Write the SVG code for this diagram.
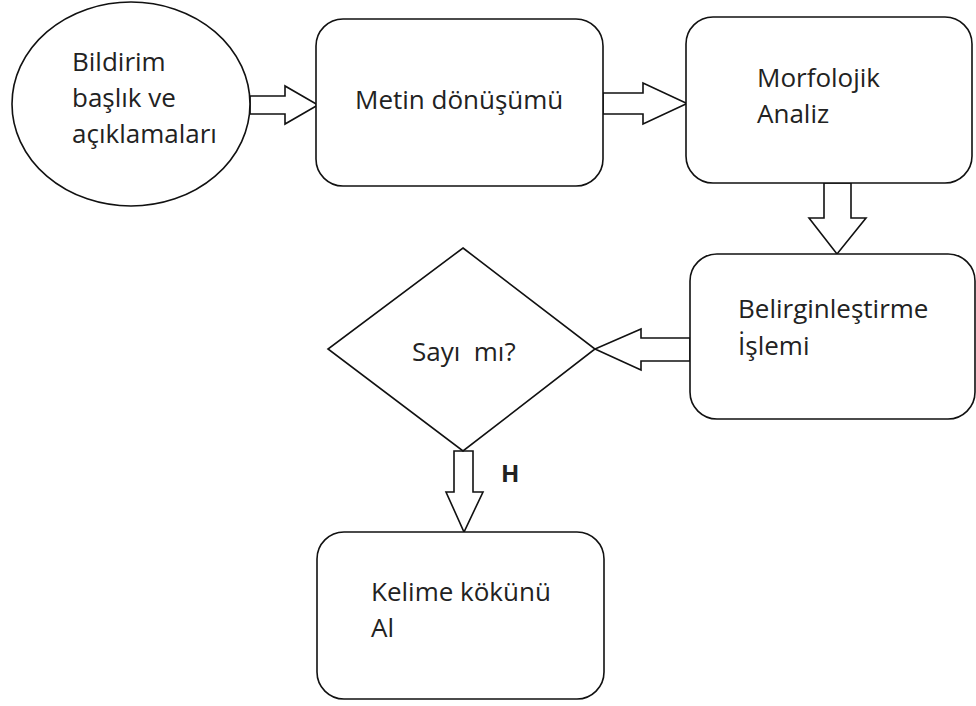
<svg xmlns="http://www.w3.org/2000/svg" width="976" height="706" viewBox="0 0 976 706">
<style>
.shape{fill:#fff;stroke:#111;stroke-width:1.6}
.arrow{fill:#fff;stroke:#111;stroke-width:1.6;stroke-linejoin:miter}
.lbl{font-family:"Open Sans","Noto Sans","Liberation Sans",sans-serif;font-size:26px;fill:#222}
.bold{font-weight:bold;font-size:24px}
</style>
<rect width="976" height="706" fill="#fff"/>
<g id="connectors">
<polygon class="arrow" points="250,96 285,96 285,86 318,105 285,124 285,114 250,114"/>
<polygon class="arrow" points="603,93 643,93 643,83 687,103.5 643,124 643,114 603,114"/>
<polygon class="arrow" points="824,183 851,183 851,218 866,218 837,254 809,218 824,218"/>
<polygon class="arrow" points="690,338 690,361 641,361 641,370 595,349 641,329 641,338"/>
<polygon class="arrow" points="454,451 473,451 473,492 483,492 464,532 446,492 454,492"/>
<text class="lbl bold" x="501" y="482">H</text>
</g>
<g id="node-bildirim">
<ellipse class="shape" cx="131" cy="104" rx="119" ry="102"/>
<text class="lbl" x="72" y="71">Bildirim</text>
<text class="lbl" x="72" y="107">başlık ve</text>
<text class="lbl" x="72" y="143">açıklamaları</text>
</g>
<g id="node-metin">
<rect class="shape" x="316" y="19" width="287" height="167" rx="27" ry="27"/>
<text class="lbl" x="355" y="109">Metin dönüşümü</text>
</g>
<g id="node-morfolojik">
<rect class="shape" x="686" y="17" width="286" height="166" rx="27" ry="27"/>
<text class="lbl" x="757" y="87">Morfolojik</text>
<text class="lbl" x="757" y="123">Analiz</text>
</g>
<g id="node-belirginlestirme">
<rect class="shape" x="690" y="254" width="285" height="165" rx="27" ry="27"/>
<text class="lbl" x="738" y="318">Belirginleştirme</text>
<text class="lbl" x="738" y="355">İşlemi</text>
</g>
<g id="node-sayi">
<polygon class="shape" points="463,248 595,349 463,451 328,349"/>
<text class="lbl" x="412" y="361" xml:space="preserve">Sayı  mı?</text>
</g>
<g id="node-kelime">
<rect class="shape" x="317" y="532" width="287" height="167" rx="27" ry="27"/>
<text class="lbl" x="371" y="601">Kelime kökünü</text>
<text class="lbl" x="371" y="637">Al</text>
</g>
</svg>
